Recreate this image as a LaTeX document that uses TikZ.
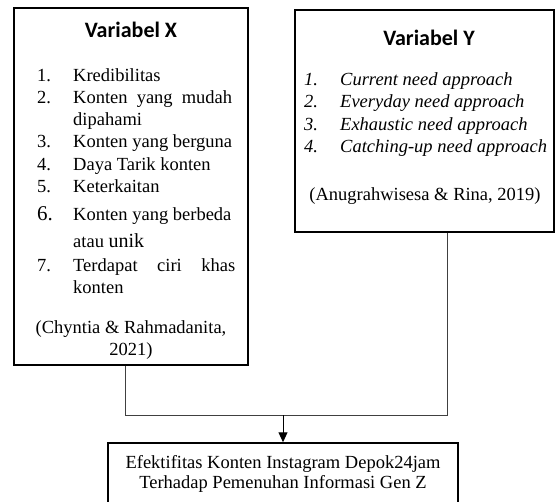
\documentclass[tikz,border=0pt]{standalone}
\usepackage{fontspec}
\setmainfont{Liberation Serif}
\newfontfamily\calibri{Carlito}
\usetikzlibrary{arrows.meta}
\tikzset{
  box/.style={draw, line width=1.5pt, inner sep=0pt},
  ttl/.style={font=\calibri\bfseries\fontsize{22}{24}\selectfont, anchor=base, inner sep=0pt},
  txt/.style={font=\fontsize{18.5}{22}\selectfont, anchor=base west, inner sep=0pt},
  itxt/.style={font=\fontsize{18.5}{22}\selectfont\itshape, anchor=base west, inner sep=0pt},
  ctr/.style={font=\fontsize{18.5}{22}\selectfont, anchor=base, inner sep=0pt},
  link/.style={draw=black!75, line width=1pt},
}

\begin{document}
\begin{tikzpicture}[x=1pt, y=-1pt]
\useasboundingbox (0,0) rectangle (556,501);
% boxes
\node[box, minimum width=234, minimum height=357] (bx) at (131,186.5) {};
\node[box, minimum width=259, minimum height=222] (by) at (424.5,121) {};
\node[box, minimum width=350, minimum height=62] (bz) at (283,474) {};
% variabel X
\node[ttl] (tx) at (131,37) {Variabel X};
\foreach \n/\y in {1/81,2/103,3/147,4/170,5/192,7/271}
  \node[txt] (xn\n) at (37,\y) {\n.};
\node[txt, font=\fontsize{21}{22}\selectfont] (xn6) at (37,220) {6.};
\node[txt] (x1) at (73,81) {Kredibilitas};
\node[txt] (x2) at (73,103) {\hbox to 159pt{Konten\hfill yang\hfill mudah}};
\node[txt] (x2b) at (73,125) {dipahami};
\node[txt] (x3) at (73,147) {Konten yang berguna};
\node[txt] (x4) at (73,170) {Daya Tarik konten};
\node[txt] (x5) at (73,192) {Keterkaitan};
\node[txt] (x6) at (73,220) {Konten yang berbeda};
\node[txt] (x6b) at (73,247) {atau {\fontsize{20}{22}\selectfont unik}};
\node[txt] (x7) at (73,271) {\hbox to 162pt{Terdapat\hfill ciri\hfill khas}};
\node[txt] (x7b) at (73,293) {konten};
\node[ctr] (xc1) at (131,333) {(Chyntia \& Rahmadanita,};
\node[ctr] (xc2) at (131,355) {2021)};
% variabel Y
\node[ttl] (ty) at (429,45) {Variabel Y};
\foreach \n/\t/\y in {1/Current need approach/85, 2/Everyday need approach/107,
    3/Exhaustic need approach/130, 4/Catching-up need approach/152} {
  \node[itxt] (yn\n) at (304,\y) {\n.};
  \node[itxt] (y\n) at (340,\y) {\t};
}
\node[ctr] (yc) at (425,200) {(Anugrahwisesa \& Rina, 2019)};
% hasil
\node[ctr] (z1) at (283,468) {Efektifitas Konten Instagram Depok24jam};
\node[ctr] (z2) at (283,488) {Terhadap Pemenuhan Informasi Gen Z};
% connectors
\coordinate (jl) at (125,415);
\coordinate (jr) at (447,415);
\coordinate (jm) at (283,415);
\draw[link] (bx.south -| jl) -- (jl) -- (jr) -- (by.south -| jr);
\draw[link, draw=black, -{Triangle[width=9pt,length=10pt]}] (jm) -- (bz.north);
\end{tikzpicture}
\end{document}
